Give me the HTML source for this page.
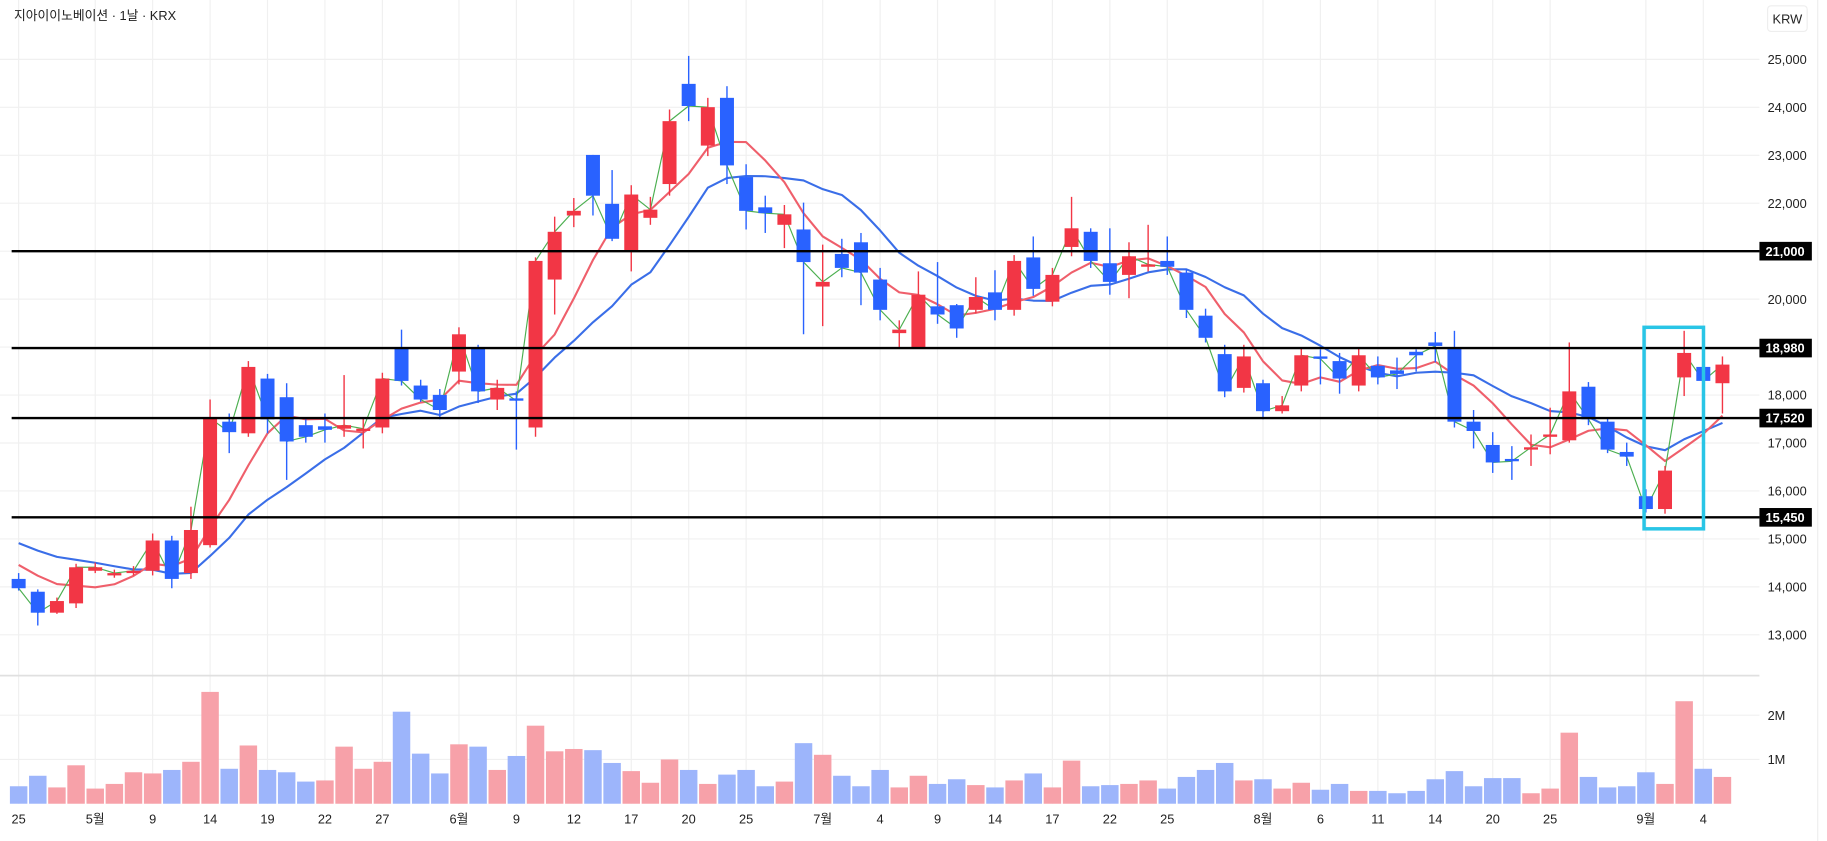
<!DOCTYPE html>
<html><head><meta charset="utf-8"><style>
html,body{margin:0;padding:0;background:#fff;overflow:hidden}
svg{display:block}
text{font-family:"Liberation Sans","Noto Sans CJK KR",sans-serif}
</style></head><body>
<svg id="c" width="1827" height="841" viewBox="0 0 1568 722" preserveAspectRatio="none" xmlns="http://www.w3.org/2000/svg"></svg>
<script>
const S=document.getElementById('c');let h='';
const Y=p=>545-(p-13000)*0.04117;
const X=i=>16+i*16.43;
for(let p=13000;p<=25000;p+=1000){h+=`<line x1="0" x2="1510" y1="${Y(p)}" y2="${Y(p)}" stroke="#f0f0f0" stroke-width="1"/>`;
h+=`<text x="1517" y="${Y(p)+4}" font-size="11" fill="#222">${(p/1000).toFixed(0)},000</text>`;}
[614,652].forEach(y=>h+=`<line x1="0" x2="1510" y1="${y}" y2="${y}" stroke="#f0f0f0"/>`);
const xl=[[0,'25'],[4,'5월'],[7,'9'],[10,'14'],[13,'19'],[16,'22'],[19,'27'],[23,'6월'],[26,'9'],[29,'12'],[32,'17'],[35,'20'],[38,'25'],[42,'7월'],[45,'4'],[48,'9'],[51,'14'],[54,'17'],[57,'22'],[60,'25'],[65,'8월'],[68,'6'],[71,'11'],[74,'14'],[77,'20'],[80,'25'],[85,'9월'],[88,'4']];
xl.forEach(([i,t])=>{h+=`<line x1="${X(i)}" x2="${X(i)}" y1="0" y2="690" stroke="#f0f0f0"/>`;h+=`<text x="${X(i)}" y="707" font-size="11" fill="#222" text-anchor="middle">${t}</text>`;});
h+=`<line x1="0" x2="1510" y1="580" y2="580" stroke="#e0e0e0" stroke-width="1.5"/>`;
h+=`<line x1="1560" x2="1560" y1="0" y2="722" stroke="#eee"/>`;
h+=`<text x="1517" y="618" font-size="11" fill="#222">2M</text><text x="1517" y="656" font-size="11" fill="#222">1M</text>`;
h+=`<rect x="1517" y="5" width="34" height="22" rx="3" fill="#fff" stroke="#eee"/><text x="1534" y="20" font-size="11" fill="#222" text-anchor="middle">KRW</text>`;
h+=`<text x="12" y="17" font-size="11" fill="#222">지아이이노베이션 · 1날 · KRX</text>`;
const C=[[497,505,492,507,'b'],[508,526,506,537,'b'],[516,526,513,527,'r'],[487,518,484,522,'r'],[487,490,483,492,'r'],[492,494,489,496,'r'],[490,492,486,494,'r'],[464,490,458,494,'r'],[464,497,460,505,'b'],[455,492,435,497,'r'],
[359,468,343,470,'r'],[362,371,355,389,'b'],[315,372,310,375,'r'],[325,360,321,372,'b'],[341,379,329,412,'b'],[365,375,360,380,'b'],[366,369,355,380,'b'],[365,368,322,375,'r'],[368,370,358,385,'r'],[325,367,320,372,'r'],
[298,327,283,331,'b'],[331,343,326,345,'b'],[339,352,334,360,'b'],[287,319,281,330,'r'],[298,336,296,346,'b'],[333,343,326,352,'r'],[342,344,336,386,'b'],[224,367,221,375,'r'],[199,240,186,270,'r'],[181,185,170,195,'r'],
[133,168,133,185,'b'],[175,205,146,207,'b'],[167,215,159,233,'r'],[180,187,169,193,'r'],[104,158,94,168,'r'],[72,91,48,104,'b'],[92,125,84,134,'r'],[84,142,74,158,'b'],[152,181,141,197,'b'],[178,183,168,200,'b'],
[184,193,176,213,'r'],[197,225,174,287,'b'],[242,246,210,280,'r'],[218,230,205,238,'b'],[208,234,200,262,'b'],[240,266,230,275,'b'],[283,286,275,298,'r'],[253,298,233,299,'r'],[263,270,225,278,'b'],[262,282,261,290,'b'],
[255,266,238,269,'r'],[251,266,232,275,'b'],[224,266,219,271,'r'],[221,248,203,254,'b'],[236,259,230,263,'r'],[196,212,169,220,'r'],[199,224,196,230,'b'],[226,242,196,253,'b'],[220,236,208,256,'r'],[227,229,193,233,'r'],
[224,229,203,236,'b'],[234,266,231,273,'b'],[271,290,265,294,'b'],[304,336,296,341,'b'],[306,333,296,337,'r'],[329,353,326,360,'b'],[348,353,340,355,'r'],[305,331,299,336,'r'],[306,308,300,330,'b'],[310,325,303,338,'b'],
[305,331,299,336,'r'],[314,324,306,330,'b'],[318,321,307,334,'b'],[302,305,300,319,'b'],[294,297,285,311,'b'],[298,362,284,367,'b'],[362,370,352,385,'b'],[382,397,371,406,'b'],[394,396,383,412,'b'],[384,386,373,400,'r'],
[373,375,350,390,'r'],[336,378,294,380,'r'],[332,360,328,365,'b'],[362,386,358,389,'b'],[388,392,380,400,'b'],[426,437,420,440,'b'],[404,437,400,441,'r'],[303,324,284,340,'r'],[315,327,310,332,'b'],[313,329,306,355,'r']];
const V=[[675,'b'],[666,'b'],[676,'r'],[657,'r'],[677,'r'],[673,'r'],[663,'r'],[664,'r'],[661,'b'],[654,'r'],
[594,'r'],[660,'b'],[640,'r'],[661,'b'],[663,'b'],[671,'b'],[670,'r'],[641,'r'],[660,'r'],[654,'r'],
[611,'b'],[647,'b'],[664,'b'],[639,'r'],[641,'b'],[661,'r'],[649,'b'],[623,'r'],[645,'r'],[643,'r'],
[644,'b'],[655,'b'],[662,'r'],[672,'r'],[652,'r'],[661,'b'],[673,'r'],[665,'b'],[661,'b'],[675,'b'],
[671,'r'],[638,'b'],[648,'r'],[666,'b'],[675,'b'],[661,'b'],[676,'r'],[666,'r'],[673,'b'],[669,'b'],
[674,'r'],[676,'b'],[670,'r'],[664,'b'],[676,'r'],[653,'r'],[675,'b'],[674,'b'],[673,'r'],[670,'r'],
[677,'b'],[667,'b'],[661,'b'],[655,'b'],[670,'r'],[669,'b'],[677,'r'],[672,'r'],[678,'b'],[673,'b'],
[679,'r'],[679,'b'],[681,'b'],[679,'b'],[669,'b'],[662,'b'],[675,'b'],[668,'b'],[668,'b'],[681,'r'],
[677,'r'],[629,'r'],[667,'b'],[676,'b'],[675,'b'],[663,'b'],[673,'r'],[602,'r'],[660,'b'],[667,'r']];
const RC='#f23645',BC='#2962ff';
V.forEach(([v,k],i)=>{const c=k=='r'?'#f7a1a9':'#9db5fb';h+=`<rect x="${X(i)-7.5}" y="${v}" width="15" height="${690-v}" fill="${c}"/>`;});
const cl=C.map(c=>c[4]=='r'?c[0]:c[1]);
function ma(n,seed){const a=Array(n-1).fill(seed).concat(cl);return cl.map((_,i)=>{let s=0;for(let k=0;k<n;k++)s+=a[i+k];return s/n;});}
const m5=ma(5,480),m10=ma(10,462);
const pl=(arr,col,w)=>`<polyline fill="none" stroke="${col}" stroke-width="${w}" stroke-linejoin="round" points="${arr.map((y,i)=>X(i).toFixed(1)+','+y.toFixed(1)).join(' ')}"/>`;
h+=pl(m10,'#3a6ee8',1.8)+pl(m5,'#ef5f6b',1.8)+pl(cl,'#4caf50',1);
C.forEach((c,i)=>{const col=c[4]=='r'?RC:BC,x=X(i);h+=`<line x1="${x}" x2="${x}" y1="${c[2]}" y2="${c[3]}" stroke="${col}" stroke-width="1.2"/>`;h+=`<rect x="${x-6}" y="${c[0]}" width="12" height="${Math.max(2,c[1]-c[0])}" fill="${col}"/>`;});
[[21000,'21,000'],[18980,'18,980'],[17520,'17,520'],[15450,'15,450']].forEach(([p,t])=>{const y=Y(p);h+=`<line x1="10" x2="1510" y1="${y}" y2="${y}" stroke="#000" stroke-width="2"/>`;h+=`<rect x="1510" y="${y-8}" width="45" height="16" fill="#000"/><text x="1532" y="${y+4}" font-size="11" fill="#fff" text-anchor="middle" font-weight="bold">${t}</text>`;});
h+=`<rect x="1411" y="281" width="51" height="173" fill="none" stroke="#29c5e6" stroke-width="3"/>`;
S.innerHTML=h;
</script>
</body></html>
